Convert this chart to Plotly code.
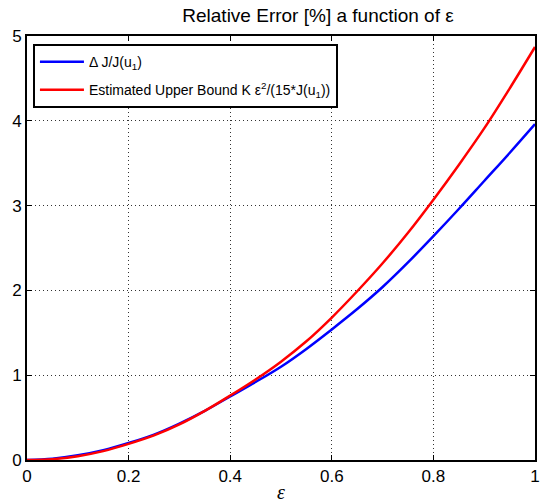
import plotly.graph_objects as go

eps = [0, 0.05, 0.1, 0.15, 0.2, 0.25, 0.3, 0.35, 0.4, 0.45, 0.5, 0.55, 0.6,
       0.65, 0.7, 0.75, 0.8, 0.85, 0.9, 0.95, 1.0]
delta_j = [0, 0.015, 0.055, 0.115, 0.20, 0.30, 0.43, 0.58, 0.75, 0.92, 1.10, 1.31,
           1.54, 1.78, 2.04, 2.33, 2.64, 2.96, 3.29, 3.62, 3.96]
upper_bound = [0, 0.01, 0.045, 0.105, 0.19, 0.29, 0.42, 0.58, 0.76, 0.95, 1.16,
               1.40, 1.68, 1.99, 2.32, 2.68, 3.07, 3.48, 3.91, 4.38, 4.87]

x_ticks = [0, 0.2, 0.4, 0.6, 0.8, 1]
x_tick_labels = ["0", "0.2", "0.4", "0.6", "0.8", "1"]
y_ticks = [0, 1, 2, 3, 4, 5]

fig = go.Figure()
fig.add_trace(go.Scatter(x=eps, y=delta_j, mode="lines", line_shape="spline",
                         line=dict(color="#0000ff", width=2.5),
                         name="Δ J/J(u<sub>1</sub>)", legendgroup="a"))
fig.add_trace(go.Scatter(x=eps, y=upper_bound, mode="lines", line_shape="spline",
                         line=dict(color="#ff0000", width=2.5),
                         name="Estimated Upper Bound K ε<sup>2</sup>/(15*J(u<sub>1</sub>))",
                         legendgroup="b"))

axis_common = dict(showline=True, linecolor="black", linewidth=2, mirror="ticks",
                   ticks="inside", ticklen=5, tickwidth=1, tickcolor="black",
                   showgrid=True, gridcolor="#333333", griddash="1px,3px", gridwidth=1,
                   zeroline=False,
                   tickfont=dict(family="Liberation Sans, Arial", size=17, color="black"))

fig.update_xaxes(range=[0, 1], tickvals=x_ticks, ticktext=x_tick_labels,
                 title=dict(text="<i>ε</i>",
                            font=dict(family="Liberation Serif, Times New Roman", size=20, color="black"),
                            standoff=0),
                 **axis_common)
fig.update_yaxes(range=[0, 5], tickvals=y_ticks, **axis_common)

fig.update_layout(
    width=544, height=504,
    margin=dict(l=27, r=4, t=36, b=39),
    plot_bgcolor="white", paper_bgcolor="white",
    title=dict(text="Relative Error [%] a function of ε", x=318/544, xanchor="center",
               y=1 - 15/504, yanchor="middle",
               font=dict(family="Liberation Sans, Arial", size=19, color="black")),
    legend=dict(x=0.0117, y=0.981, xanchor="left", yanchor="top",
                bgcolor="white", bordercolor="black", borderwidth=2,
                font=dict(family="Liberation Sans, Arial", size=14, color="black"),
                tracegroupgap=7, itemwidth=44),
    showlegend=True,
)

fig.write_html("out.html", config={"displayModeBar": False},
               post_script="document.body.style.margin='0';document.body.style.overflow='hidden';")
